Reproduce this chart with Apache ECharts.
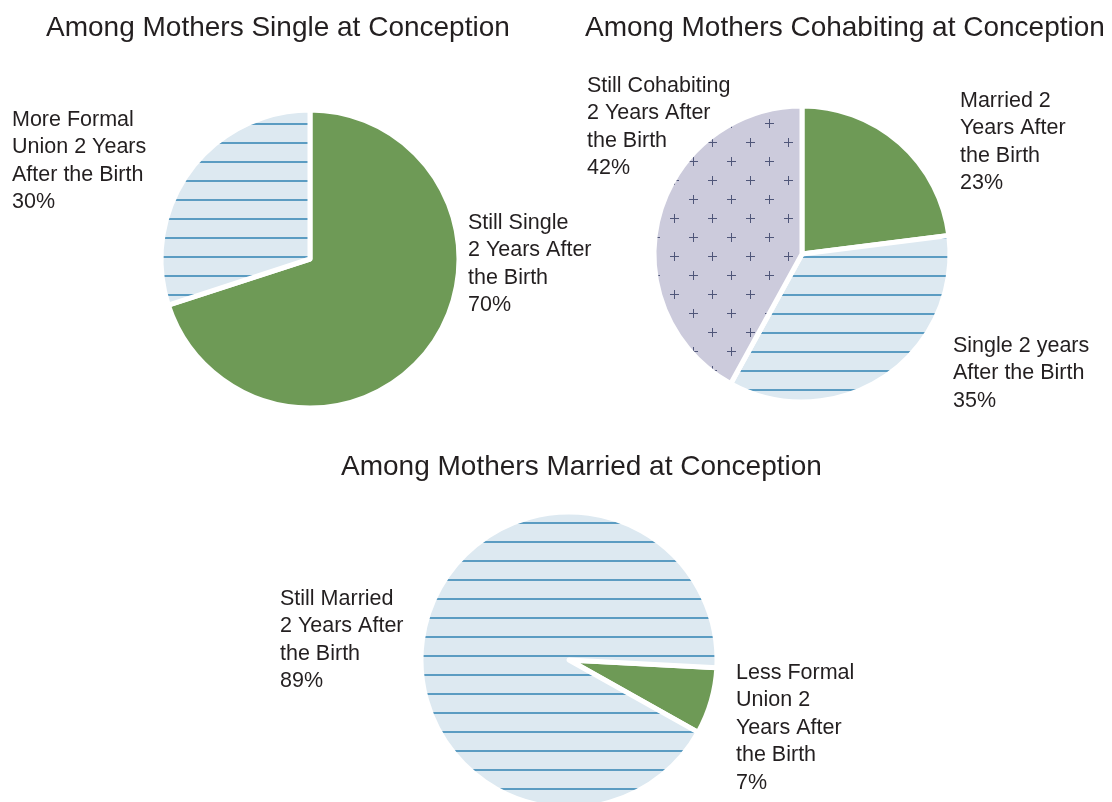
<!DOCTYPE html>
<html>
<head>
<meta charset="utf-8">
<script src="https://cdn.jsdelivr.net/npm/echarts@6/dist/echarts.min.js"></script>
<style>
html,body{margin:0;padding:0;background:#fff;}
#chart{width:1112px;height:802px;}
</style>
</head>
<body>
<div id="chart"></div>
<script>
// ---- Data ----
const titles = [
  'Among Mothers Single at Conception',
  'Among Mothers Cohabiting at Conception',
  'Among Mothers Married at Conception'
];
const singleCategories = ['Still Single\n2 Years After\nthe Birth', 'More Formal\nUnion 2 Years\nAfter the Birth'];
const singleValues = [70, 30];
const cohabCategories = ['Married 2\nYears After\nthe Birth', 'Single 2 years\nAfter the Birth', 'Still Cohabiting\n2 Years After\nthe Birth'];
const cohabValues = [23, 35, 42];
const marriedCategories = ['Less Formal\nUnion 2\nYears After\nthe Birth', 'Still Married\n2 Years After\nthe Birth'];
const marriedValues = [7, 89];

// ---- Styles / layout ----
const FONT = '"Liberation Sans", Arial, Helvetica, sans-serif';
const TEXT = '#231f20';
const GREEN = '#6e9a56';

function stripes() {
  const c = document.createElement('canvas');
  c.width = 20; c.height = 19;
  const g = c.getContext('2d');
  g.fillStyle = '#dde9f1';
  g.fillRect(0, 0, 20, 19);
  g.fillStyle = '#5b9cc2';
  g.fillRect(0, 9, 20, 2);
  return { image: c, repeat: 'repeat' };
}
function pluses() {
  const c = document.createElement('canvas');
  c.width = 38; c.height = 38;
  const g = c.getContext('2d');
  g.fillStyle = '#cccbdc';
  g.fillRect(0, 0, 38, 38);
  g.fillStyle = '#4f5679';
  [[9, 9], [28, 28]].forEach(([x, y]) => {
    g.fillRect(x - 4, y, 9, 1);
    g.fillRect(x, y - 4, 1, 9);
  });
  return { image: c, repeat: 'repeat' };
}
const BLUE = stripes();
const PURPLE = pluses();

const titlePos = [[46, 14], [585, 14], [341, 453]];
const pieLayout = [
  { center: [310, 259], r: 149, start: 90, colors: [GREEN, BLUE] },
  { center: [802, 254], r: 148, start: 90, colors: [GREEN, BLUE, PURPLE] },
  { center: [569, 660], r: 148, start: -3, colors: [GREEN, BLUE] }
];
const labelPos = [
  [[468, 209], [12, 106]],
  [[960, 87], [953, 332], [587, 72]],
  [[736, 659], [280, 585]]
];

const chart = echarts.init(document.getElementById('chart'), null, { renderer: 'canvas' });

function makeSeries(idx, cats, vals) {
  const L = pieLayout[idx];
  return {
    type: 'pie',
    center: L.center,
    radius: [0, L.r],
    startAngle: L.start,
    clockwise: true,
    avoidLabelOverlap: false,
    silent: true,
    animation: false,
    itemStyle: { borderColor: '#ffffff', borderWidth: 5 },
    label: {
      show: true,
      position: 'outside',
      formatter: p => p.name + '\n' + p.value + '%',
      fontFamily: FONT,
      fontSize: 21.5,
      lineHeight: 27.5,
      color: TEXT,
      align: 'left'
    },
    labelLine: { show: false },
    labelLayout: p => {
      const pos = labelPos[idx][p.dataIndex];
      return { x: pos[0], y: pos[1], align: 'left', verticalAlign: 'top' };
    },
    data: cats.map((c, i) => ({ name: c, value: vals[i], itemStyle: { color: L.colors[i] } }))
  };
}

chart.setOption({
  backgroundColor: '#ffffff',
  animation: false,
  title: titles.map((t, i) => ({
    text: t,
    left: titlePos[i][0],
    top: titlePos[i][1],
    padding: 0,
    textStyle: { fontFamily: FONT, fontSize: 28, fontWeight: 'normal', color: TEXT }
  })),
  series: [
    makeSeries(0, singleCategories, singleValues),
    makeSeries(1, cohabCategories, cohabValues),
    makeSeries(2, marriedCategories, marriedValues)
  ]
});
</script>
</body>
</html>
